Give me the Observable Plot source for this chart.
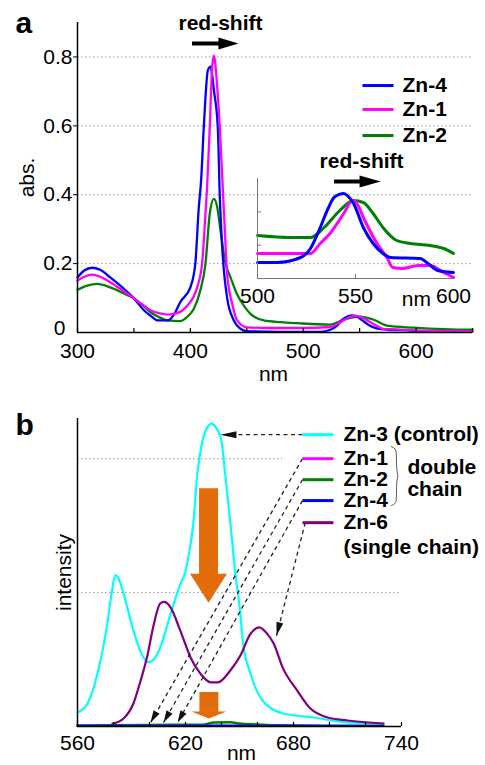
<!DOCTYPE html>
<html><head><meta charset="utf-8">
<script src="https://cdn.jsdelivr.net/npm/d3@7"></script>
<script src="https://cdn.jsdelivr.net/npm/@observablehq/plot@0.6"></script>
<style>
body{margin:0;background:#fff;}
#wrap{position:relative;width:485px;height:765px;overflow:hidden;background:#fff;}
#wrap svg{position:absolute;overflow:visible;}
</style></head><body><div id="wrap"></div>
<script>
// ---------- data: panel a (absorbance vs nm) ----------
const absZn4 = [[300,.16],[306,.18],[313,.188],[320,.182],[329,.16],[340,.13],[350,.099],[359,.064],[365,.048],[371,.035],[380,.035],[386,.055],[391,.088],[400,.131],[404.4,.2],[407.4,.36],[409.5,.44],[411.9,.596],[415.5,.761],[417.8,.772],[421,.70],[424.3,.596],[426.1,.393],[428.2,.248],[432.6,.10],[438.5,.035],[444.4,.011],[450,.004],[480,.002],[515,.002],[524,.008],[530,.02],[535,.038],[540,.048],[543,.05],[547,.047],[552,.036],[558,.022],[565,.012],[575,.008],[592,.006],[610,.003],[650,.002]];
const absZn1 = [[300,.151],[306,.162],[313,.168],[320,.162],[329,.146],[340,.122],[350,.099],[358,.08],[365,.064],[372,.056],[380,.052],[388,.056],[397,.077],[406,.131],[410.4,.2],[413.4,.345],[414.8,.42],[417.2,.596],[419.3,.77],[420.8,.804],[423.8,.712],[426.1,.596],[429.1,.393],[430.5,.3],[432.6,.17],[437.1,.083],[441.5,.035],[450,.015],[470,.013],[500,.013],[524,.016],[532,.028],[540,.043],[546,.049],[552,.043],[559.6,.03],[566,.018],[571.4,.01],[583,.009],[600,.006],[650,.003]];
const absZn2 = [[300,.124],[308.6,.136],[317.4,.141],[329,.131],[340,.115],[350,.099],[358,.078],[365,.058],[372,.045],[380,.035],[391,.033],[397,.045],[403,.068],[408.8,.122],[413.4,.2],[417.2,.345],[420.8,.388],[423.8,.364],[426.7,.296],[431.2,.2],[435.6,.16],[441.5,.11],[445,.09],[453.3,.054],[465,.035],[480,.03],[494.7,.027],[524,.023],[536,.037],[543,.043],[550.9,.046],[556,.043],[562.6,.037],[574.5,.02],[598,.014],[648,.008],[650,.008]];
// inset (zoom of 500-600 nm)
const insetZn4 = [[500,.0148],[510,.0148],[522,.0163],[527,.019],[532,.0253],[536,.031],[539,.0343],[542,.0353],[544,.0355],[546,.0348],[549,.0325],[554,.0253],[559,.0205],[564,.0175],[568,.0163],[583,.016],[587,.0145],[592,.0124],[600,.0118]];
const insetZn1 = [[500,.0175],[527,.0175],[532,.0205],[537,.0235],[544,.0295],[548.5,.0334],[551,.0322],[554,.0283],[561,.0205],[566,.0163],[569,.0133],[574,.013],[582,.0139],[588,.0139],[595,.0118],[600,.0103]];
const insetZn2 = [[500,.0229],[517,.0223],[527,.0223],[534,.0253],[542,.0304],[549,.0334],[554,.0328],[559,.0295],[564,.0253],[571,.0214],[578,.0205],[588,.0199],[595,.019],[600,.0175]];
const yTicksA = [0.2, 0.4, 0.6, 0.8];
const yZeroLabelA = ["0"];
const xLabelsA = [300, 400, 500, 600];
const xMinorA = [300, 350, 400, 450, 500, 550, 600, 650];
const insetXLabels = [500, 550, 600];
const insetYTicks = [0.02, 0.03];
const legendNamesA = ["Zn-4", "Zn-1", "Zn-2"];

// ---------- data: panel b (emission intensity vs nm) ----------
const intZn3 = [[560,.104],[565.5,.17],[571,.39],[576.6,.77],[579,1.0],[581,1.13],[583,1.1],[585.6,.99],[591,.72],[596,.53],[599.6,.48],[603,.51],[606,.59],[611.7,.84],[617,1.06],[620,1.16],[621.5,1.26],[624.3,1.51],[626.6,1.89],[629.4,2.13],[631.5,2.22],[634.4,2.26],[637.5,2.22],[640,2.13],[642,1.89],[645,1.51],[647.8,1.13],[650,.9],[652,.62],[656,.40],[663,.19],[674,.097],[691,.067],[710,.03],[730,.022]];
const intZn6 = [[579.4,.02],[585.6,.06],[591,.17],[595,.34],[599,.54],[602,.74],[606,.92],[608,.93],[611.7,.89],[617,.72],[623,.51],[628,.40],[634,.33],[638,.33],[645,.42],[650.5,.53],[656,.69],[661,.74],[665.5,.69],[669,.62],[674,.44],[682,.27],[689,.14],[699,.067],[710,.045],[730,.022]];
const intZn1 = [[560,.004],[600,.005],[640,.006],[700,.004],[730,.003]];
const intZn2 = [[560,.008],[600,.012],[630,.014],[636,.03],[645,.032],[650,.022],[660,.015],[668,.01],[700,.006],[730,.005]];
const intZn4 = [[560,.005],[600,.006],[640,.007],[680,.005],[730,.004]];
const xLabelsB = [560, 620, 680, 740];
const xMinorB = [560, 580, 600, 620, 640, 660, 680, 700, 720, 740];
const gridB = [1, 2];
const legendNamesB = ["Zn-3 (control)", "Zn-1", "Zn-2", "Zn-4", "Zn-6"];

// ---------- styling / layout ----------
const FONT = "'Liberation Sans', Arial, sans-serif";
const FS = 21;
const C = {blue: "#0000ff", magenta: "#ff00ff", green: "#008000", cyan: "#00ffff", purple: "#800080", orange: "#e36c0a"};
const W = 485;
const A = {h: 385, mt: 22, mb: 53, ml: 77, mr: 13, x: [300, 650], y: [0, 0.9]};
const B = {h: 380, mt: 33, mb: 39, ml: 77, mr: 84, x: [560, 740], y: [0, 2.3]};
const I = {w: 268, h: 180, mt: 45, mb: 35, ml: 40, mr: 32, x: [500, 600], y: [0.01, 0.04], left: 217, top: 133};
const gridStyle = {stroke: "#999", strokeWidth: 1, strokeDasharray: "1.5,2.5", strokeOpacity: 1};
const xy = {x: d => d[0], y: d => d[1], curve: "monotone-x"};
const svgStyle = {fontFamily: FONT, fontSize: FS + "px", background: "transparent", overflow: "visible"};

// annotation anchors (data units of each panel)
const legendA = {x1: 552.5, x2: 580, tx: 588, ys: [0.717, 0.6475, 0.572], colors: [C.blue, C.magenta, C.green]};
const shiftA = {tx: 426.7, ty: 0.898, x1: 401.9, x2: 442.6, y: 0.839};
const shiftI = {tx: 553.1, ty: 0.0453, x1: 539.3, x2: 562.8, y: 0.0391};
const legendB = {x1: 685, x2: 702.2, tx: 707.8, ys: [2.179, 2.0, 1.843, 1.687, 1.522], colors: [C.cyan, C.magenta, C.green, C.blue, C.purple]};
const dashArrowsB = [
  {x1: 685, y1: 2.179, x2: 639.4, y2: 2.179, len: 12, r: 4},
  {x1: 685, y1: 2.0, x2: 600.6, y2: 0.03, len: 9, r: 3.5},
  {x1: 685, y1: 1.843, x2: 607.8, y2: 0.03, len: 9, r: 3.5},
  {x1: 685, y1: 1.687, x2: 615.6, y2: 0.03, len: 9, r: 3.5},
  {x1: 686.5, y1: 1.522, x2: 670.6, y2: 0.679, len: 10, r: 3.5}
];
const bigDrop = {x: 632.8, top: 1.776, base: 1.13, tip: 0.925, len: 29, r: 18.5};
const smallDrop = {x: 633, top: 0.254, base: 0.105, tip: 0.06, len: 7, r: 17.5};
const brace = [[734.4,2.09],[736.7,2.075],[737.2,2.045],[737.2,1.91],[738.3,1.873],[737.2,1.836],[737.2,1.687],[736.7,1.664],[734.4,1.649]];

const kxB = (W - B.ml - B.mr) / (B.x[1] - B.x[0]);
const kyB = (B.h - B.mt - B.mb) / (B.y[1] - B.y[0]);
const angleB = d => Math.atan2((d.x2 - d.x1) * kxB, (d.y2 - d.y1) * kyB) * 180 / Math.PI;

const wrap = document.getElementById("wrap");

// ---------- panel a ----------
const plotA = Plot.plot({
  width: W, height: A.h, marginTop: A.mt, marginBottom: A.mb, marginLeft: A.ml, marginRight: A.mr,
  x: {domain: A.x}, y: {domain: A.y},
  style: svgStyle,
  marks: [
    Plot.gridY([0.2, 0.4, 0.6, 0.8], gridStyle),
    Plot.line(absZn2, {...xy, stroke: C.green, strokeWidth: 2.3}),
    Plot.line(absZn4, {...xy, stroke: C.blue, strokeWidth: 2.3}),
    Plot.line(absZn1, {...xy, stroke: C.magenta, strokeWidth: 2.3}),
    Plot.ruleX([A.x[0]], {stroke: "black", strokeWidth: 1.5}),
    Plot.ruleY([A.y[0]], {stroke: "black", strokeWidth: 1.5}),
    Plot.tickX(xMinorA, {x: d => d, insetTop: (A.h - A.mt - A.mb) - 4, stroke: "black", strokeWidth: 1.2}),
    Plot.axisX(xLabelsA, {tickSize: 0, tickPadding: 10.5, fontSize: FS, label: null}),
    Plot.axisY(yTicksA, {tickSize: 4, tickPadding: 1, fontSize: FS, label: null, tickFormat: d => d.toFixed(1)}),
    Plot.text(yZeroLabelA, {x: A.x[0], y: A.y[0], text: d => d, fontSize: FS, textAnchor: "end", lineAnchor: "middle", dx: -12, dy: -4}),
    Plot.text(["nm"], {x: 473.7, y: -0.12, text: d => d, fontSize: FS, lineAnchor: "middle"}),
    Plot.text(["abs."], {x: 255.1, y: 0.45, text: d => d, fontSize: FS, rotate: -90, lineAnchor: "middle"}),
    Plot.text(["a"], {x: 245.1, y: 0.898, text: d => d, fontSize: 30, fontWeight: "bold", textAnchor: "start", lineAnchor: "middle"}),
    // legend
    Plot.link(legendNamesA, {x1: legendA.x1, x2: legendA.x2, y1: (d, i) => legendA.ys[i], y2: (d, i) => legendA.ys[i], stroke: (d, i) => legendA.colors[i], strokeWidth: 3}),
    Plot.text(legendNamesA, {x: legendA.tx, y: (d, i) => legendA.ys[i], text: d => d, fontSize: FS, fontWeight: "bold", textAnchor: "start", lineAnchor: "middle"}),
    // red-shift annotation
    Plot.text(["red-shift"], {x: shiftA.tx, y: shiftA.ty, text: d => d, fontSize: FS, fontWeight: "bold", lineAnchor: "middle"}),
    Plot.ruleY([shiftA.y], {x1: shiftA.x1, x2: shiftA.x2 - 10, stroke: "black", strokeWidth: 4}),
    Plot.vector([shiftA], {x: "x2", y: "y", length: 20, rotate: 90, anchor: "end", shape: "spike", r: 6, fill: "black", stroke: "none"})
  ]
});
plotA.style.left = "0px"; plotA.style.top = "0px";
wrap.appendChild(plotA);

// ---------- inset ----------
const plotI = Plot.plot({
  width: I.w, height: I.h, marginTop: I.mt, marginBottom: I.mb, marginLeft: I.ml, marginRight: I.mr,
  x: {domain: I.x}, y: {domain: I.y, axis: null},
  style: svgStyle,
  marks: [
    Plot.line(insetZn2, {...xy, stroke: C.green, strokeWidth: 3}),
    Plot.line(insetZn1, {...xy, stroke: C.magenta, strokeWidth: 3}),
    Plot.line(insetZn4, {...xy, stroke: C.blue, strokeWidth: 3}),
    Plot.ruleX([I.x[0]], {stroke: "#777", strokeWidth: 1}),
    Plot.ruleY([I.y[0]], {stroke: "#777", strokeWidth: 1}),
    Plot.tickX([550], {x: d => d, insetTop: (I.h - I.mt - I.mb) - 4, stroke: "#777"}),
    Plot.tickY(insetYTicks, {y: d => d, insetRight: (I.w - I.ml - I.mr) - 4, stroke: "#777"}),
    Plot.axisX(insetXLabels, {tickSize: 0, tickPadding: 9.5, fontSize: FS, label: null}),
    Plot.text(["nm"], {x: 581.1, y: 0.0039, text: d => d, fontSize: FS, lineAnchor: "middle"}),
    Plot.text(["red-shift"], {x: shiftI.tx, y: shiftI.ty, text: d => d, fontSize: FS, fontWeight: "bold", lineAnchor: "middle"}),
    Plot.ruleY([shiftI.y], {x1: shiftI.x1, x2: shiftI.x2 - 5, stroke: "black", strokeWidth: 4}),
    Plot.vector([shiftI], {x: "x2", y: "y", length: 21, rotate: 90, anchor: "end", shape: "spike", r: 6, fill: "black", stroke: "none"})
  ]
});
plotI.style.left = I.left + "px"; plotI.style.top = I.top + "px";
wrap.appendChild(plotI);

// ---------- panel b ----------
const plotB = Plot.plot({
  width: W, height: B.h, marginTop: B.mt, marginBottom: B.mb, marginLeft: B.ml, marginRight: B.mr,
  x: {domain: B.x}, y: {domain: B.y, axis: null},
  style: svgStyle,
  marks: [
    Plot.gridY(gridB, gridStyle),
    Plot.rect([0], {x1: 674, x2: 780, y1: 1.95, y2: 2.05, fill: "white"}),
    Plot.line(intZn3, {...xy, stroke: C.cyan, strokeWidth: 2.2}),
    Plot.line(intZn6, {...xy, stroke: C.purple, strokeWidth: 2.2}),
    Plot.line(intZn1, {...xy, stroke: C.magenta, strokeWidth: 2}),
    Plot.line(intZn2, {...xy, stroke: C.green, strokeWidth: 2.5}),
    Plot.line(intZn4, {...xy, stroke: C.blue, strokeWidth: 2}),
    Plot.ruleX([B.x[0]], {stroke: "black", strokeWidth: 1.5}),
    Plot.ruleY([B.y[0]], {stroke: "black", strokeWidth: 1.5}),
    Plot.tickX(xMinorB, {x: d => d, insetTop: (B.h - B.mt - B.mb) - 4, stroke: "black", strokeWidth: 1.2}),
    Plot.axisX(xLabelsB, {tickSize: 0, tickPadding: 8.5, fontSize: FS, label: null}),
    Plot.text(["nm"], {x: 651.1, y: -0.2, text: d => d, fontSize: FS, lineAnchor: "middle"}),
    Plot.text(["intensity"], {x: 552.4, y: 1.15, text: d => d, fontSize: FS, rotate: -90, lineAnchor: "middle"}),
    Plot.text(["b"], {x: 525.6, y: 2.245, text: d => d, fontSize: 30, fontWeight: "bold", textAnchor: "start", lineAnchor: "middle"}),
    // orange drop arrows
    Plot.ruleX([bigDrop], {x: "x", y1: "top", y2: "base", stroke: C.orange, strokeWidth: 19}),
    Plot.vector([bigDrop], {x: "x", y: "tip", length: bigDrop.len, rotate: 180, anchor: "end", shape: "spike", r: bigDrop.r, fill: C.orange, stroke: "none"}),
    Plot.ruleX([smallDrop], {x: "x", y1: "top", y2: "base", stroke: C.orange, strokeWidth: 19}),
    Plot.vector([smallDrop], {x: "x", y: "tip", length: smallDrop.len, rotate: 180, anchor: "end", shape: "spike", r: smallDrop.r, fill: C.orange, stroke: "none"}),
    // dashed pointer arrows
    Plot.link(dashArrowsB, {x1: "x1", y1: "y1", x2: "x2", y2: "y2", stroke: "#222", strokeWidth: 1.3, strokeDasharray: "4,3.5"}),
    Plot.vector(dashArrowsB, {x: "x2", y: "y2", length: d => d.len, rotate: angleB, anchor: "end", shape: "spike", r: 3.5, fill: "#111", stroke: "none"}),
    // legend
    Plot.link(legendNamesB, {x1: legendB.x1, x2: legendB.x2, y1: (d, i) => legendB.ys[i], y2: (d, i) => legendB.ys[i], stroke: (d, i) => legendB.colors[i], strokeWidth: 3}),
    Plot.text(legendNamesB, {x: legendB.tx, y: (d, i) => legendB.ys[i], text: d => d, fontSize: FS, fontWeight: "bold", textAnchor: "start", lineAnchor: "middle"}),
    Plot.text(["(single chain)"], {x: legendB.tx, y: 1.336, text: d => d, fontSize: FS, fontWeight: "bold", textAnchor: "start", lineAnchor: "middle"}),
    Plot.text(["double", "chain"], {x: 743.3, y: (d, i) => [1.933, 1.769][i], text: d => d, fontSize: FS, fontWeight: "bold", textAnchor: "start", lineAnchor: "middle"}),
    Plot.line(brace, {x: d => d[0], y: d => d[1], stroke: "#555", strokeWidth: 1, curve: "basis"})
  ]
});
plotB.style.left = "0px"; plotB.style.top = A.h + "px";
wrap.appendChild(plotB);
</script></body></html>
